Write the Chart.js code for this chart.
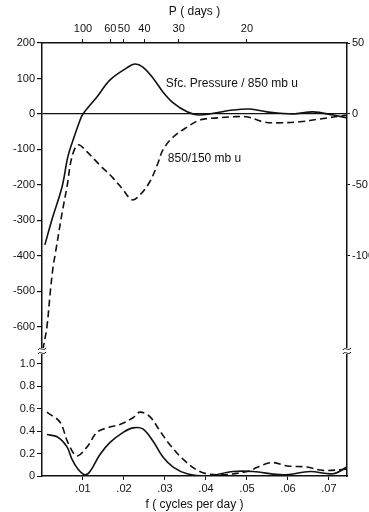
<!DOCTYPE html>
<html>
<head>
<meta charset="utf-8">
<script src="https://cdn.jsdelivr.net/npm/chart.js@4.4.1/dist/chart.umd.min.js"></script>
<style>
  html, body { margin: 0; padding: 0; background: #fff; }
  #wrap { width: 369px; height: 512px; }
</style>
</head>
<body>
<div id="wrap"><canvas id="graphe"></canvas></div>
<script>
// cospectrum (top panel)
const freqSfc = [0.0007, 0.0024, 0.0049, 0.0063, 0.0076, 0.0093, 0.0100, 0.0134, 0.0166, 0.0207, 0.0227, 0.0246, 0.0271, 0.0295, 0.0320, 0.0354, 0.0385, 0.0466, 0.0507, 0.0549, 0.0612, 0.0661, 0.0710, 0.0744];
const coSfc = [-369, -299, -205, -121, -73, -17, 0, 48, 96, 130, 141, 132, 101, 62, 31, 6, -3, 11, 14, 6, 0, 6, -3, -11];

const freqUpper = [0.0002, 0.0012, 0.0020, 0.0027, 0.0032, 0.0049, 0.0061, 0.0073, 0.0088, 0.0110, 0.0141, 0.0173, 0.0198, 0.0220, 0.0239, 0.0263, 0.0283, 0.0295, 0.0320, 0.0354, 0.0385, 0.0427, 0.0466, 0.0500, 0.0539, 0.0573, 0.0629, 0.0678, 0.0744];
const coUpper = [-665, -600, -504, -431, -397, -279, -205, -121, -87, -107, -144, -180, -214, -242, -228, -191, -138, -101, -65, -37, -17, -11, -8, -8, -22, -25, -22, -14, -3];

// coherence (bottom panel)
const freqCohSfc = [0.0012, 0.0037, 0.0061, 0.0073, 0.0088, 0.0105, 0.0117, 0.0141, 0.0166, 0.0198, 0.0222, 0.0246, 0.0271, 0.0295, 0.0320, 0.0354, 0.0402, 0.0466, 0.0515, 0.0588, 0.0654, 0.0710, 0.0744];
const cohSfc = [0.37, 0.35, 0.26, 0.15, 0.06, 0.01, 0.04, 0.19, 0.30, 0.39, 0.43, 0.42, 0.31, 0.17, 0.08, 0.02, 0.0, 0.04, 0.04, 0.01, 0.04, 0.02, 0.08];

const freqCohUpper = [0.0012, 0.0044, 0.0063, 0.0085, 0.0110, 0.0134, 0.0159, 0.0190, 0.0222, 0.0239, 0.0263, 0.0288, 0.0312, 0.0344, 0.0385, 0.0427, 0.0500, 0.0539, 0.0563, 0.0598, 0.0646, 0.0685, 0.0744];
const cohUpper = [0.57, 0.48, 0.30, 0.18, 0.26, 0.39, 0.43, 0.46, 0.52, 0.57, 0.53, 0.40, 0.28, 0.15, 0.04, 0.01, 0.04, 0.10, 0.12, 0.09, 0.08, 0.05, 0.06];

// ticks
const freqTicks = [0.01, 0.02, 0.03, 0.04, 0.05, 0.06, 0.07];
const periodTicks = [100, 60, 50, 40, 30, 20];
const coTicks = [200, 100, 0, -100, -200, -300, -400, -500, -600];
const coRightTicks = [50, 0, -50, -100];
const cohTicks = [0, 0.2, 0.4, 0.6, 0.8, 1.0];

const fMax = 0.0744;
const coMin = -668, coMax = 200;
const cohMax = 1.116;

const ink = '#111';
const police = { family: "'Liberation Sans', Arial, sans-serif", size: 11 };

function pts(xs, ys) {
    return xs.map((x, i) => ({ x: x, y: ys[i] }));
}
function setTicks(list) {
    return function (scale) { scale.ticks = list.map(v => ({ value: v })); };
}
function fixWidth(w) {
    return function (scale) { scale.width = w; };
}
function fixHeight(h) {
    return function (scale) { scale.height = h; };
}

// little break marks on the vertical axes + curve labels
const extras = {
    id: 'extras',
    afterDraw(chart) {
        const c = chart.ctx;
        const yP = chart.scales.yP, x = chart.scales.x;
        const yb = chart.scales.yC.top;
        c.save();
        c.strokeStyle = ink;
        c.lineWidth = 1;
        [chart.chartArea.left, chart.chartArea.right].forEach(function (xa) {
            c.fillStyle = '#fff';
            c.fillRect(xa - 2, yb - 3, 4, 6);
            [-2, 2].forEach(function (d) {
                c.beginPath();
                c.moveTo(xa - 4, yb + d + 1);
                c.bezierCurveTo(xa - 2, yb + d - 3, xa + 1, yb + d + 3, xa + 4, yb + d - 1);
                c.stroke();
            });
        });
        c.fillStyle = ink;
        c.font = "12px 'Liberation Sans', Arial, sans-serif";
        c.textBaseline = 'middle';
        c.fillText('Sfc. Pressure / 850 mb u', x.getPixelForValue(0.0302), yP.getPixelForValue(85));
        c.fillText('850/150 mb u', x.getPixelForValue(0.0307), yP.getPixelForValue(-127));
        c.restore();
    }
};

const ligne = { borderColor: ink, borderWidth: 1.6, pointRadius: 0, tension: 0.35, fill: false };

new Chart(document.getElementById('graphe'), {
    type: 'line',
    data: {
        datasets: [
            Object.assign({ label: 'Sfc. Pressure / 850 mb u', data: pts(freqSfc, coSfc), xAxisID: 'x', yAxisID: 'yP' }, ligne),
            Object.assign({ label: '850/150 mb u', data: pts(freqUpper, coUpper), xAxisID: 'x', yAxisID: 'yP', borderDash: [7, 4] }, ligne),
            Object.assign({ label: 'coh sfc', data: pts(freqCohSfc, cohSfc), xAxisID: 'x', yAxisID: 'yC' }, ligne),
            Object.assign({ label: 'coh 850/150', data: pts(freqCohUpper, cohUpper), xAxisID: 'x', yAxisID: 'yC', borderDash: [7, 4] }, ligne)
        ]
    },
    options: {
        responsive: true,
        maintainAspectRatio: false,
        animation: false,
        layout: { padding: 0 },
        plugins: { legend: { display: false }, tooltip: { enabled: false } },
        scales: {
            x: {
                type: 'linear', position: 'bottom', min: 0, max: fMax,
                afterBuildTicks: setTicks(freqTicks),
                afterFit: fixHeight(36),
                border: { color: ink, width: 1.5 },
                grid: { drawOnChartArea: false, color: ink, tickLength: 4 },
                ticks: { color: ink, font: police, padding: 2, maxRotation: 0, autoSkip: false, callback: v => v.toFixed(2).replace('0.', '.') },
                title: { display: true, text: 'f ( cycles per day )', color: ink, font: { family: police.family, size: 12 }, padding: { top: 2, bottom: 0 } }
            },
            xP: {
                type: 'linear', position: 'top', min: 0, max: fMax,
                afterBuildTicks: scale => { scale.ticks = periodTicks.map(p => ({ value: 1 / p })); },
                afterFit: fixHeight(43),
                border: { color: ink, width: 1.5 },
                grid: { drawOnChartArea: false, color: ink, tickLength: 4 },
                ticks: { color: ink, font: police, padding: 3, maxRotation: 0, autoSkip: false, callback: v => String(Math.round(1 / v)) },
                title: { display: true, text: 'P ( days )', color: ink, font: { family: police.family, size: 12 }, padding: { top: 4, bottom: 2 } }
            },
            // left stack: bottom panel defined first (left boxes are placed in reverse)
            yC: {
                type: 'linear', position: 'left', stack: 'gauche', stackWeight: 125,
                min: 0, max: cohMax,
                afterBuildTicks: setTicks(cohTicks),
                afterFit: fixWidth(42),
                border: { color: ink, width: 1.5 },
                grid: { drawOnChartArea: false, color: ink, tickLength: 5 },
                ticks: { color: ink, font: police, padding: 2, autoSkip: false, callback: v => v === 0 ? '0' : v.toFixed(1) }
            },
            yP: {
                type: 'linear', position: 'left', stack: 'gauche', stackWeight: 308,
                min: coMin, max: coMax,
                afterBuildTicks: setTicks(coTicks),
                afterFit: fixWidth(42),
                border: { color: ink, width: 1.5 },
                grid: {
                    drawOnChartArea: true, tickLength: 5, tickColor: ink, lineWidth: 1.2,
                    color: ctx => (ctx.tick && ctx.tick.value === 0) ? ink : 'rgba(0,0,0,0)'
                },
                ticks: { color: ink, font: police, padding: 2, autoSkip: false }
            },
            yPR: {
                type: 'linear', position: 'right', stack: 'droite', stackWeight: 308,
                min: coMin / 4, max: coMax / 4,
                afterBuildTicks: setTicks(coRightTicks),
                afterFit: fixWidth(22),
                border: { color: ink, width: 1.5 },
                grid: { drawOnChartArea: false, color: ink, tickLength: 3 },
                ticks: { color: ink, font: police, padding: 2, autoSkip: false }
            },
            yCR: {
                type: 'linear', position: 'right', stack: 'droite', stackWeight: 125,
                min: 0, max: cohMax,
                afterFit: fixWidth(22),
                border: { color: ink, width: 1.5 },
                grid: { drawOnChartArea: false, drawTicks: false },
                ticks: { display: false }
            }
        }
    },
    plugins: [extras]
});
</script>
</body>
</html>
